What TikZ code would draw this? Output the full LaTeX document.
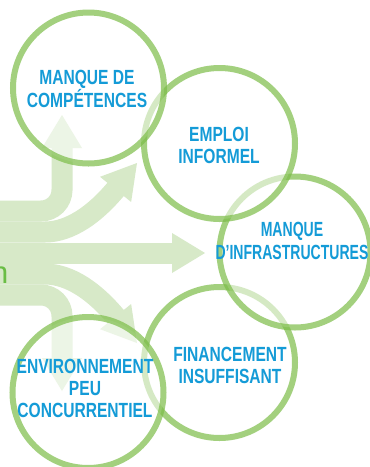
\documentclass[tikz,border=0pt]{standalone}
\usepackage{fontspec}
\setmainfont[FakeStretch=0.76]{Liberation Sans}
\newfontfamily\narrowfont[FakeStretch=0.685]{Liberation Sans}
\newfontfamily\plainsans{Liberation Sans}
\usetikzlibrary{calc}
\definecolor{arrowc}{RGB}{215,233,200}
\definecolor{ringc}{RGB}{124,189,72}
\definecolor{labelc}{RGB}{20,155,215}
\definecolor{wordc}{RGB}{106,189,69}
\begin{document}
\begin{tikzpicture}[x=1pt,y=-1pt,
  ringnode/.style={circle, minimum size=151pt, inner sep=0pt, draw=ringc, line width=6pt,
                   draw opacity=0.7, fill=white, fill opacity=0.55},
  ctext/.style={font=\bfseries\fontsize{20.5}{22}\selectfont, text=labelc, align=center, inner sep=0pt},
  stem/.style={draw=arrowc, line width=21pt},
  headfill/.style={fill=arrowc}]
\fill[white] (0,0) rectangle (370,467);
\useasboundingbox (0,0) rectangle (370,467);

% arrow coordinates (base of head, tip)
\coordinate (uB) at (62,148);      \coordinate (uT) at (62,115);
\coordinate (urB) at (115.6,189.4); \coordinate (urT) at (137,163);
\coordinate (rB) at (172,253);     \coordinate (rT) at (205,253);
\coordinate (drB) at (115.6,316.6); \coordinate (drT) at (137,343);
\coordinate (dB) at (62,358);      \coordinate (dT) at (62,391);

% stems
\draw[stem, rounded corners=21pt] (0,211) -| ($(uB)!2pt!(uT)$);
\draw[stem] (0,232) -- (45,232) .. controls (70,232) and (95,214) .. (urB) -- ($(urB)!2pt!(urT)$);
\draw[stem] (0,253) -- ($(rB)!2pt!(rT)$);
\draw[stem] (0,274) -- (45,274) .. controls (70,274) and (95,292) .. (drB) -- ($(drB)!2pt!(drT)$);
\draw[stem, rounded corners=21pt] (0,295) -| ($(dB)!2pt!(dT)$);

% heads
\fill[headfill] ($(uB)!20pt!90:(uT)$) -- (uT) -- ($(uB)!20pt!-90:(uT)$) -- cycle;
\fill[headfill] ($(urB)!20pt!90:(urT)$) -- (urT) -- ($(urB)!20pt!-90:(urT)$) -- cycle;
\fill[headfill] ($(rB)!20pt!90:(rT)$) -- (rT) -- ($(rB)!20pt!-90:(rT)$) -- cycle;
\fill[headfill] ($(drB)!20pt!90:(drT)$) -- (drT) -- ($(drB)!20pt!-90:(drT)$) -- cycle;
\fill[headfill] ($(dB)!20pt!90:(dT)$) -- (dT) -- ($(dB)!20pt!-90:(dT)$) -- cycle;

% cut-off word at left (cut by the picture's edge, as in the reference)
\node[anchor=base west, inner sep=0pt, font=\plainsans\fontsize{31}{31}\selectfont, text=wordc] (word) at (-9,283) {n};

% circles
\node[ringnode] (c4) at (219.5,362.5) {};
\node[ringnode] (c5) at (88,392.5) {};
\node[ringnode] (c3) at (295,252) {};
\node[ringnode] (c2) at (219.5,143.5) {};
\node[ringnode] (c1) at (88.5,88) {};

% texts
\node[ctext] (t1) at (87,89) {MANQUE DE\\COMPÉTENCES};
\node[ctext] (t2) at (219,145) {EMPLOI\\INFORMEL};
\node[ctext, font=\narrowfont\bfseries\fontsize{20.5}{23}\selectfont] (t3) at (292,241) {MANQUE\\D’INFRASTRUCTURES};
\node[ctext] (t4) at (230,365) {FINANCEMENT\\INSUFFISANT};
\node[ctext] (t5) at (85,388) {ENVIRONNEMENT\\PEU\\CONCURRENTIEL};
\end{tikzpicture}
\end{document}
